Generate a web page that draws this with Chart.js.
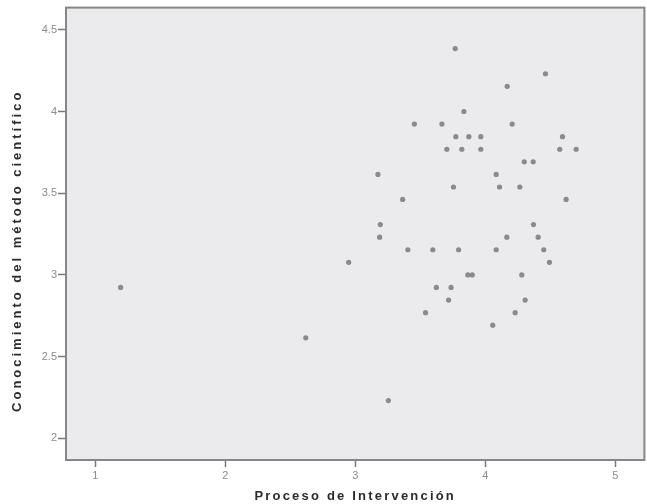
<!DOCTYPE html>
<html>
<head>
<meta charset="utf-8">
<script src="https://cdn.jsdelivr.net/npm/chart.js@4.4.1/dist/chart.umd.min.js"></script>
<style>
  html, body { margin: 0; padding: 0; background: #ffffff; }
  #wrap { width: 647px; height: 504px; }
</style>
</head>
<body>
<div id="wrap"><canvas id="c" width="647" height="504"></canvas></div>
<script>
// ---- data ----
const xValues = [1.195, 2.619, 2.949, 3.174, 3.192, 3.187, 3.254, 3.364, 3.404, 3.454,
                 3.540, 3.596, 3.623, 3.666, 3.704, 3.717, 3.736, 3.755, 3.768, 3.773,
                 3.794, 3.819, 3.835, 3.865, 3.873, 3.899, 3.965, 3.965, 4.057, 4.083,
                 4.083, 4.109, 4.168, 4.165, 4.206, 4.229, 4.265, 4.280, 4.299, 4.306,
                 4.368, 4.370, 4.406, 4.449, 4.462, 4.493, 4.572, 4.593, 4.621, 4.698];
const yValues = [2.923, 2.615, 3.077, 3.615, 3.308, 3.231, 2.231, 3.462, 3.154, 3.923,
                 2.769, 3.154, 2.923, 3.923, 3.769, 2.846, 2.923, 3.538, 4.385, 3.846,
                 3.154, 3.769, 4.000, 3.000, 3.846, 3.000, 3.846, 3.769, 2.692, 3.615,
                 3.154, 3.538, 4.154, 3.231, 3.923, 2.769, 3.538, 3.000, 3.692, 2.846,
                 3.692, 3.308, 3.231, 3.154, 4.231, 3.077, 3.769, 3.846, 3.462, 3.769];
const xTicks = [1, 2, 3, 4, 5];
const xTickLabels = ['1', '2', '3', '4', '5'];
const yTicks = [2, 2.5, 3, 3.5, 4, 4.5];
const yTickLabels = ['2', '2.5', '3', '3.5', '4', '4.5'];
const xTitle = 'Proceso de Intervención';
const yTitle = 'Conocimiento del método científico';

const points = xValues.map((x, i) => ({ x: x, y: yValues[i] }));

const FONT = "'Liberation Sans', Arial, Helvetica, sans-serif";

const framePlugin = {
  id: 'frame',
  beforeDraw(chart) {
    const { ctx, chartArea: a } = chart;
    ctx.save();
    ctx.fillStyle = '#ebebed';
    ctx.fillRect(a.left, a.top, a.right - a.left, a.bottom - a.top);
    ctx.restore();
  },
  afterDraw(chart) {
    const { ctx, chartArea: a } = chart;
    ctx.save();
    ctx.strokeStyle = '#868686';
    ctx.lineWidth = 2;
    ctx.strokeRect(a.left, a.top, a.right - a.left, a.bottom - a.top);
    ctx.restore();
  },
  afterLayout(chart) {
    const tweaks = { x: { ls: '2.2px', dx: 0, dy: 0 }, y: { ls: '3px', dx: 0, dy: 17 } };
    Object.keys(tweaks).forEach(id => {
      const s = chart.scales[id];
      if (!s || s._titlePatched) return;
      const orig = s.drawTitle;
      s.drawTitle = function () {
        const c = this.ctx;
        c.save();
        c.translate(tweaks[id].dx, tweaks[id].dy);
        c.letterSpacing = tweaks[id].ls;
        orig.apply(this, arguments);
        c.restore();
      };
      s._titlePatched = true;
    });
  }
};

new Chart(document.getElementById('c'), {
  type: 'scatter',
  data: {
    datasets: [{
      data: points,
      pointRadius: 2.6,
      pointHoverRadius: 2.6,
      pointBackgroundColor: '#8a8a8a',
      pointBorderWidth: 0,
      pointBorderColor: '#8a8a8a'
    }]
  },
  options: {
    responsive: false,
    animation: false,
    events: [],
    layout: { padding: { top: 7, right: 2, left: 0, bottom: 0 } },
    plugins: { legend: { display: false }, tooltip: { enabled: false } },
    scales: {
      x: {
        type: 'linear',
        min: 0.775,
        max: 5.223,
        afterFit(scale) { scale.height = 44; },
        afterBuildTicks(scale) { scale.ticks = xTicks.map(v => ({ value: v })); },
        ticks: {
          autoSkip: false,
          maxRotation: 0,
          padding: 2,
          color: '#8c8c8c',
          font: { family: FONT, size: 11 },
          callback: (v) => { const i = xTicks.indexOf(v); return i >= 0 ? xTickLabels[i] : ''; }
        },
        grid: { drawOnChartArea: false, drawTicks: true, tickLength: 7, tickColor: '#7a7a7a', tickWidth: 1.5 },
        border: { display: false },
        title: {
          display: true,
          text: xTitle,
          color: '#2b2b2b',
          padding: { top: 0, bottom: 0 },
          font: { family: FONT, size: 13, weight: 'bold' }
        }
      },
      y: {
        type: 'linear',
        min: 1.867,
        max: 4.636,
        afterFit(scale) { scale.width = 66; },
        afterBuildTicks(scale) { scale.ticks = yTicks.map(v => ({ value: v })); },
        ticks: {
          autoSkip: false,
          padding: 1,
          color: '#8c8c8c',
          font: { family: FONT, size: 11 },
          callback: (v) => { const i = yTicks.indexOf(v); return i >= 0 ? yTickLabels[i] : ''; }
        },
        grid: { drawOnChartArea: false, drawTicks: true, tickLength: 8, tickColor: '#7a7a7a', tickWidth: 1.5 },
        border: { display: false },
        title: {
          display: true,
          text: yTitle,
          color: '#2b2b2b',
          padding: { top: 10, bottom: 0 },
          font: { family: FONT, size: 13, weight: 'bold' }
        }
      }
    }
  },
  plugins: [framePlugin]
});
</script>
</body>
</html>
